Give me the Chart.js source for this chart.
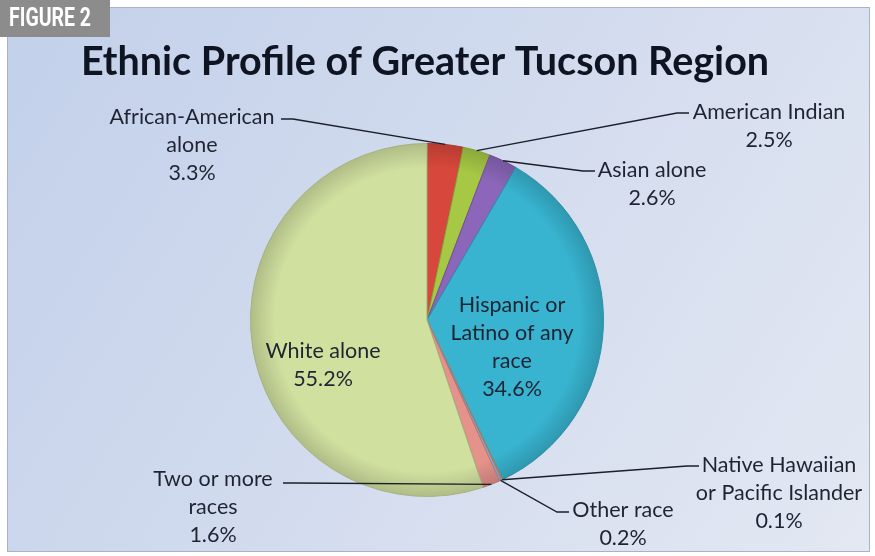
<!DOCTYPE html>
<html>
<head>
<meta charset="utf-8">
<script src="https://cdn.jsdelivr.net/npm/chart.js@4.4.1/dist/chart.umd.min.js"></script>
<style>
  html, body { margin: 0; padding: 0; background: #fff; }
  #wrap { width: 875px; height: 556px; position: relative; }
</style>
</head>
<body>
<div id="wrap"><canvas id="graficoEtnias"></canvas></div>
<script>
// dados
var categorias = ['African-American alone', 'American Indian', 'Asian alone', 'Hispanic or Latino of any race',
    'Native Hawaiian or Pacific Islander', 'Other race', 'Two or more races', 'White alone'];
var percentuais = [3.3, 2.5, 2.6, 34.6, 0.1, 0.2, 1.6, 55.2];
var linhasRotulo = [['African-American', 'alone'], ['American Indian'], ['Asian alone'],
    ['Hispanic or', 'Latino of any', 'race'], ['Native Hawaiian', 'or Pacific Islander'],
    ['Other race'], ['Two or more', 'races'], ['White alone']];
var cores = ['#d8473b', '#a6c845', '#8b66ba', '#38b4d0', '#f0913f', '#92b2da', '#e5928b', '#d0e09f'];
var titulo = 'Ethnic Profile of Greater Tucson Region';

// posicao dos rotulos (cx, y da primeira linha, inicio da linha guia)
var posRotulo = [
    { x: 192, y: 117, guia: [281, 119], dir: 1 },
    { x: 769, y: 112, guia: [689, 113], dir: -1 },
    { x: 652, y: 170, guia: [595, 171], dir: -1 },
    { x: 512, y: 305, guia: null },
    { x: 779, y: 465, guia: [699, 466], dir: -1 },
    { x: 623, y: 510, guia: [569, 512], dir: -1 },
    { x: 213, y: 479, guia: [283, 483], dir: 1 },
    { x: 323, y: 351, guia: null }
];
var alturaLinha = 28;
var fonteRotulo = '21.5px Lato';

function escurecer(hex, f) {
    var n = parseInt(hex.slice(1), 16);
    var r = Math.round(((n >> 16) & 255) * f), g = Math.round(((n >> 8) & 255) * f), b = Math.round((n & 255) * f);
    return 'rgb(' + r + ',' + g + ',' + b + ')';
}

var fundo = {
    id: 'fundo',
    beforeDraw: function (chart) {
        var c = chart.ctx;
        c.save();
        c.fillStyle = '#ffffff';
        c.fillRect(0, 0, chart.width, chart.height);
        var g = c.createLinearGradient(7, 7, 870, 552);
        g.addColorStop(0, '#c2d0ea');
        g.addColorStop(0.6, '#d6deef');
        g.addColorStop(1, '#e3e8f2');
        c.fillStyle = g;
        c.fillRect(7, 7, 863, 545);
        c.strokeStyle = '#aab3c4';
        c.lineWidth = 1;
        c.strokeRect(7.5, 7.5, 862, 544);
        // etiqueta FIGURE 2
        c.fillStyle = '#8c8c8c';
        c.fillRect(0, 0, 110, 37);
        c.fillStyle = '#ffffff';
        c.textAlign = 'left';
        c.textBaseline = 'middle';
        c.save();
        c.translate(9, 20);
        c.scale(0.78, 1);
        c.font = 'bold 25px Roboto';
        c.fillText('FIGURE 2', 0, 0);
        c.restore();
        // titulo
        c.fillStyle = '#0f1422';
        c.textAlign = 'center';
        c.font = 'bold 39.5px Lato';
        c.fillText(titulo, 425, 62);
        c.restore();
    }
};

var rotulos = {
    id: 'rotulos',
    afterDraw: function (chart) {
        var c = chart.ctx;
        var arcos = chart.getDatasetMeta(0).data;
        c.save();
        c.font = fonteRotulo;
        c.fillStyle = '#1f2433';
        c.textAlign = 'center';
        c.textBaseline = 'middle';
        c.strokeStyle = '#1b1f2a';
        c.lineWidth = 1.3;
        arcos.forEach(function (arco, i) {
            var p = posRotulo[i];
            var linhas = linhasRotulo[i].concat([percentuais[i].toFixed(1) + '%']);
            linhas.forEach(function (t, k) {
                c.fillText(t, p.x, p.y + k * alturaLinha);
            });
            if (p.guia) {
                var meio = (arco.startAngle + arco.endAngle) / 2;
                var ax = arco.x + Math.cos(meio) * arco.outerRadius;
                var ay = arco.y + Math.sin(meio) * arco.outerRadius;
                c.beginPath();
                c.moveTo(p.guia[0], p.guia[1]);
                c.lineTo(p.guia[0] + p.dir * 12, p.guia[1]);
                c.lineTo(ax, ay);
                c.stroke();
            }
        });
        c.restore();
    }
};

var ctx = document.getElementById('graficoEtnias').getContext('2d');

var config = {
    type: 'pie',
    data: {
        labels: categorias,
        datasets: [{
            data: percentuais,
            backgroundColor: function (context) {
                var chart = context.chart;
                var area = chart.chartArea;
                var base = cores[context.dataIndex];
                if (!area) return base;
                var cx = (area.left + area.right) / 2, cy = (area.top + area.bottom) / 2;
                var r = Math.min(area.right - area.left, area.bottom - area.top) / 2;
                var g = chart.ctx.createRadialGradient(cx, cy, 0, cx, cy, r);
                g.addColorStop(0, base);
                g.addColorStop(0.86, base);
                g.addColorStop(1, escurecer(base, 0.84));
                return g;
            },
            borderColor: cores.map(function (c) { return escurecer(c, 0.8); }),
            borderWidth: 1
        }]
    },
    options: {
        responsive: false,
        animation: false,
        layout: { padding: { left: 250, right: 271, top: 143, bottom: 59 } },
        plugins: {
            legend: { display: false },
            tooltip: { enabled: false }
        }
    },
    plugins: [fundo, rotulos]
};

var canvas = document.getElementById('graficoEtnias');
canvas.width = 875;
canvas.height = 556;
var graficoEtnias = new Chart(ctx, config);
</script>
</body>
</html>
